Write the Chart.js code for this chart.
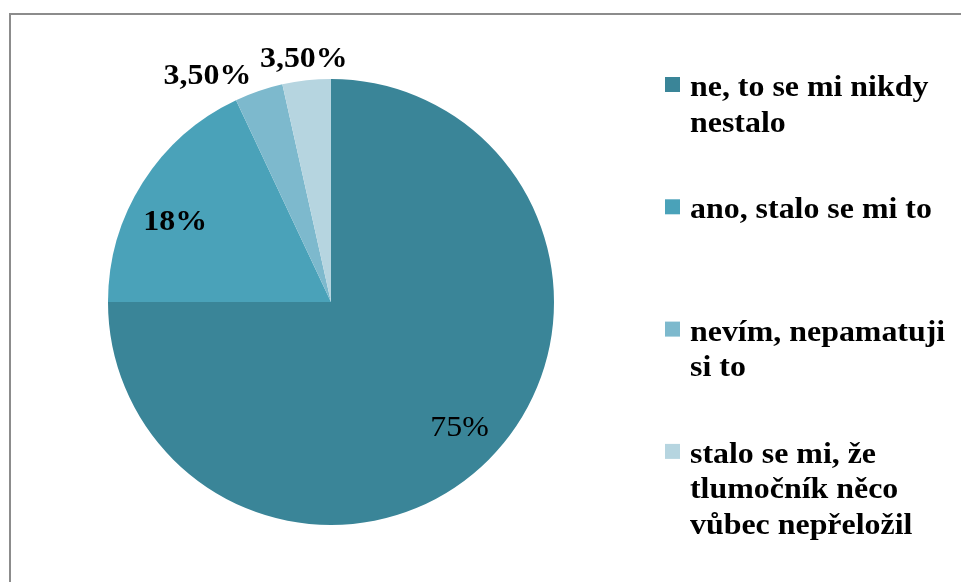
<!DOCTYPE html>
<html>
<head>
<meta charset="utf-8">
<script src="https://cdn.jsdelivr.net/npm/chart.js@4"></script>
<style>
  html, body { margin: 0; padding: 0; background: #fff; overflow: hidden; }
  #frame {
    position: absolute; left: 9px; top: 13px; width: 980px; height: 600px;
    border: 2px solid #8c8c8c;
  }
  #wrap { position: absolute; left: 0; top: 0; width: 961px; height: 582px; }
</style>
</head>
<body>
<div id="frame"></div>
<div id="wrap"><canvas id="pieChart" width="961" height="582"></canvas></div>
<script>
const labels = [
    ['ne, to se mi nikdy', 'nestalo'],
    ['ano, stalo se mi to'],
    ['nevím, nepamatuji', 'si to'],
    ['stalo se mi, že', 'tlumočník něco', 'vůbec nepřeložil']
];
const values = [75, 18, 3.5, 3.5];
const valueText = ['75%', '18%', '3,50%', '3,50%'];
const colors = ['#3a8598', '#4aa2b9', '#7db9cd', '#b6d5e0'];

const FONT = '"Liberation Serif", "Times New Roman", serif';
const STRETCH = 1.1;

// draw text slightly widened around its anchor
function wideText(ctx, txt, x, y, align) {
    ctx.save();
    ctx.translate(x, y);
    ctx.scale(STRETCH, 1);
    ctx.textAlign = align;
    ctx.fillText(txt, 0, 0);
    ctx.restore();
}

// percentage labels on/around the slices
const sliceLabels = {
    id: 'sliceLabels',
    afterDatasetsDraw(chart, args, opts) {
        const ctx = chart.ctx;
        const arcs = chart.getDatasetMeta(0).data;
        ctx.save();
        ctx.fillStyle = '#000';
        ctx.textBaseline = 'middle';
        arcs.forEach((arc, i) => {
            const mid = (arc.startAngle + arc.endAngle) / 2;
            const r = arc.outerRadius * opts.dist[i];
            const x = arc.x + Math.cos(mid) * r + opts.nudge[i][0];
            const y = arc.y + Math.sin(mid) * r + opts.nudge[i][1];
            ctx.font = opts.weight[i] + ' 29px ' + FONT;
            wideText(ctx, valueText[i], x, y, 'center');
        });
        ctx.restore();
    }
};

// legend on the right, one slot per category, text may wrap over lines
const sideLegend = {
    id: 'sideLegend',
    afterDraw(chart, args, opts) {
        const ctx = chart.ctx;
        ctx.save();
        ctx.font = 'bold 29px ' + FONT;
        ctx.textBaseline = 'alphabetic';
        chart.data.labels.forEach((lines, i) => {
            const base = opts.top + opts.slot * i;
            ctx.fillStyle = chart.data.datasets[0].backgroundColor[i];
            ctx.fillRect(opts.x, base - 19, 15, 15);
            ctx.fillStyle = '#000';
            lines.forEach((ln, j) => {
                wideText(ctx, ln, opts.x + 25, base + j * opts.lineH, 'left');
            });
        });
        ctx.restore();
    }
};

new Chart(document.getElementById('pieChart'), {
    type: 'pie',
    data: {
        labels: labels,
        datasets: [{
            data: values,
            backgroundColor: colors,
            borderWidth: 0
        }]
    },
    options: {
        responsive: false,
        animation: false,
        layout: { padding: { left: 108, right: 407, top: 79, bottom: 57 } },
        plugins: {
            legend: { display: false },
            tooltip: { enabled: false },
            sliceLabels: {
                dist: [0.79, 0.79, 1.06, 1.11],
                nudge: [[4, 2], [-7, 15], [-47, -2], [0, 4]],
                weight: ['normal', 'bold', 'bold', 'bold']
            },
            sideLegend: { x: 665, top: 96, slot: 122.3, lineH: 35.5 }
        }
    },
    plugins: [sliceLabels, sideLegend]
});
</script>
</body>
</html>
